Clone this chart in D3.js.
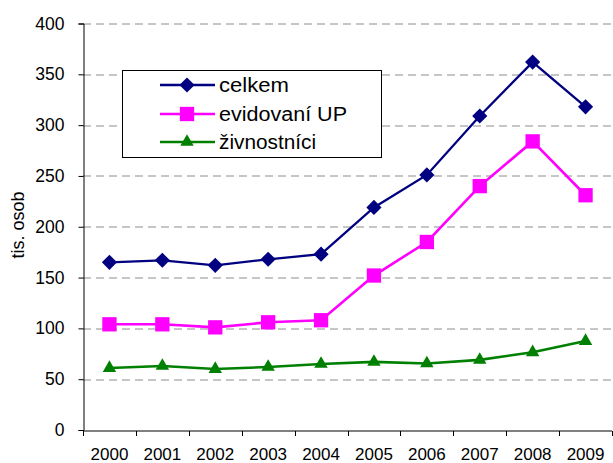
<!DOCTYPE html>
<html>
<head>
<meta charset="utf-8">
<script src="https://cdn.jsdelivr.net/npm/d3@7"></script>
<style>
  body { margin: 0; background: #fff; }
  text { font-family: "Liberation Sans", Arial, sans-serif; fill: #000; }
</style>
</head>
<body>
<div id="chart"></div>
<script>
// Data
const years = ["2000", "2001", "2002", "2003", "2004", "2005", "2006", "2007", "2008", "2009"];
const celkem = [165, 167, 162, 168, 173, 219, 251, 309, 362, 318];
const evidovani = [104, 104, 101, 106, 108, 152, 185, 240, 284, 231];
const zivnostnici = [61, 63, 60, 62, 65, 67, 65.5, 69, 76.5, 87.5];
const yTicks = [0, 50, 100, 150, 200, 250, 300, 350, 400];
const seriesNames = ["celkem", "evidovaní UP", "živnostníci"];

const W = 613, H = 463;
const margin = { top: 23.5, right: 1, bottom: 33, left: 83 };
const width = W - margin.left - margin.right;
const height = H - margin.top - margin.bottom;

const svg = d3.select("#chart")
  .append("svg")
    .attr("width", W)
    .attr("height", H);

const g = svg.append("g")
  .attr("transform", "translate(" + margin.left + "," + margin.top + ")");

// Scales
const x = d3.scaleBand().domain(years).range([0, width]);
const y = d3.scaleLinear().domain([0, 400]).range([height, 0]);

// Gridlines (dashed)
g.append("g")
  .selectAll("line")
  .data(yTicks.filter(d => d > 0))
  .join("line")
    .attr("x1", 0)
    .attr("x2", width)
    .attr("y1", d => Math.round(y(d)) + 0.5)
    .attr("y2", d => Math.round(y(d)) + 0.5)
    .attr("stroke", "#8c8c8c")
    .attr("stroke-width", 1)
    .attr("stroke-dasharray", "8,5");

// Y axis
const yAxis = g.append("g")
  .attr("transform", "translate(0.5,0)")
  .call(d3.axisLeft(y).tickValues(yTicks).tickSize(5).tickPadding(14));
yAxis.select(".domain").attr("stroke", "#000");
yAxis.selectAll(".tick line").attr("stroke", "#000");
yAxis.selectAll("text").style("font-size", "17.5px").attr("fill", "#000");

// X axis with ticks at band boundaries
const xAxis = g.append("g")
  .attr("transform", "translate(0," + (Math.round(height) + 0.5) + ")");
xAxis.append("line")
  .attr("x1", 0).attr("x2", width)
  .attr("stroke", "#000");
xAxis.selectAll(".bt")
  .data(years.concat(["end"]))
  .join("line")
    .attr("class", "bt")
    .attr("x1", (d, i) => Math.round(i * x.step()) + 0.5)
    .attr("x2", (d, i) => Math.round(i * x.step()) + 0.5)
    .attr("y1", 0).attr("y2", 5)
    .attr("stroke", "#000");
xAxis.selectAll(".lbl")
  .data(years)
  .join("text")
    .attr("class", "lbl")
    .attr("x", d => x(d) + x.bandwidth() / 2)
    .attr("y", 28.5)
    .attr("text-anchor", "middle")
    .style("font-size", "17px")
    .text(d => d);

// Y-axis label
svg.append("text")
  .attr("transform", "translate(24,225) rotate(-90)")
  .attr("text-anchor", "middle")
  .style("font-size", "18px")
  .text("tis. osob");

// Markers (diamond = rotated square)
function markerPath(s) {
  return d3.symbol().type(s.symbol).size(s.size)();
}

// Lines
const line = d3.line()
  .x((d, i) => x(years[i]) + x.bandwidth() / 2)
  .y(d => y(d));

const series = [
  { name: seriesNames[0], values: celkem, color: "#000080", width: 2.3, symbol: d3.symbolSquare, size: 115, rot: 45, textW: 70 },
  { name: seriesNames[1], values: evidovani, color: "#ff00ff", width: 2.6, symbol: d3.symbolSquare, size: 205, rot: 0, textW: 128 },
  { name: seriesNames[2], values: zivnostnici, color: "#008000", width: 2.6, symbol: d3.symbolTriangle, size: 78, rot: 0, textW: 97 }
];

series.forEach(s => {
  g.append("path")
    .datum(s.values)
    .attr("fill", "none")
    .attr("stroke", s.color)
    .attr("stroke-width", s.width)
    .attr("d", line);

  g.selectAll(null)
    .data(s.values)
    .join("path")
      .attr("transform", (d, i) => "translate(" + (x(years[i]) + x.bandwidth() / 2) + "," + y(d) + ") rotate(" + s.rot + ")")
      .attr("d", markerPath(s))
      .attr("fill", s.color);
});

// Legend
const legend = svg.append("g");
legend.append("rect")
  .attr("x", 122.5).attr("y", 70.5)
  .attr("width", 259).attr("height", 87)
  .attr("fill", "#fff")
  .attr("stroke", "#000")
  .attr("stroke-width", 1);

const rowY = [85, 114, 142];
series.forEach((s, i) => {
  legend.append("line")
    .attr("x1", 160).attr("x2", 215)
    .attr("y1", rowY[i]).attr("y2", rowY[i])
    .attr("stroke", s.color)
    .attr("stroke-width", s.width);
  legend.append("path")
    .attr("transform", "translate(187," + rowY[i] + ") rotate(" + s.rot + ")")
    .attr("d", markerPath(s))
    .attr("fill", s.color);
  legend.append("text")
    .attr("x", 219)
    .attr("y", rowY[i] + 6.7)
    .attr("textLength", s.textW)
    .attr("lengthAdjust", "spacingAndGlyphs")
    .style("font-size", "20px")
    .text(s.name);
});
</script>
</body>
</html>
